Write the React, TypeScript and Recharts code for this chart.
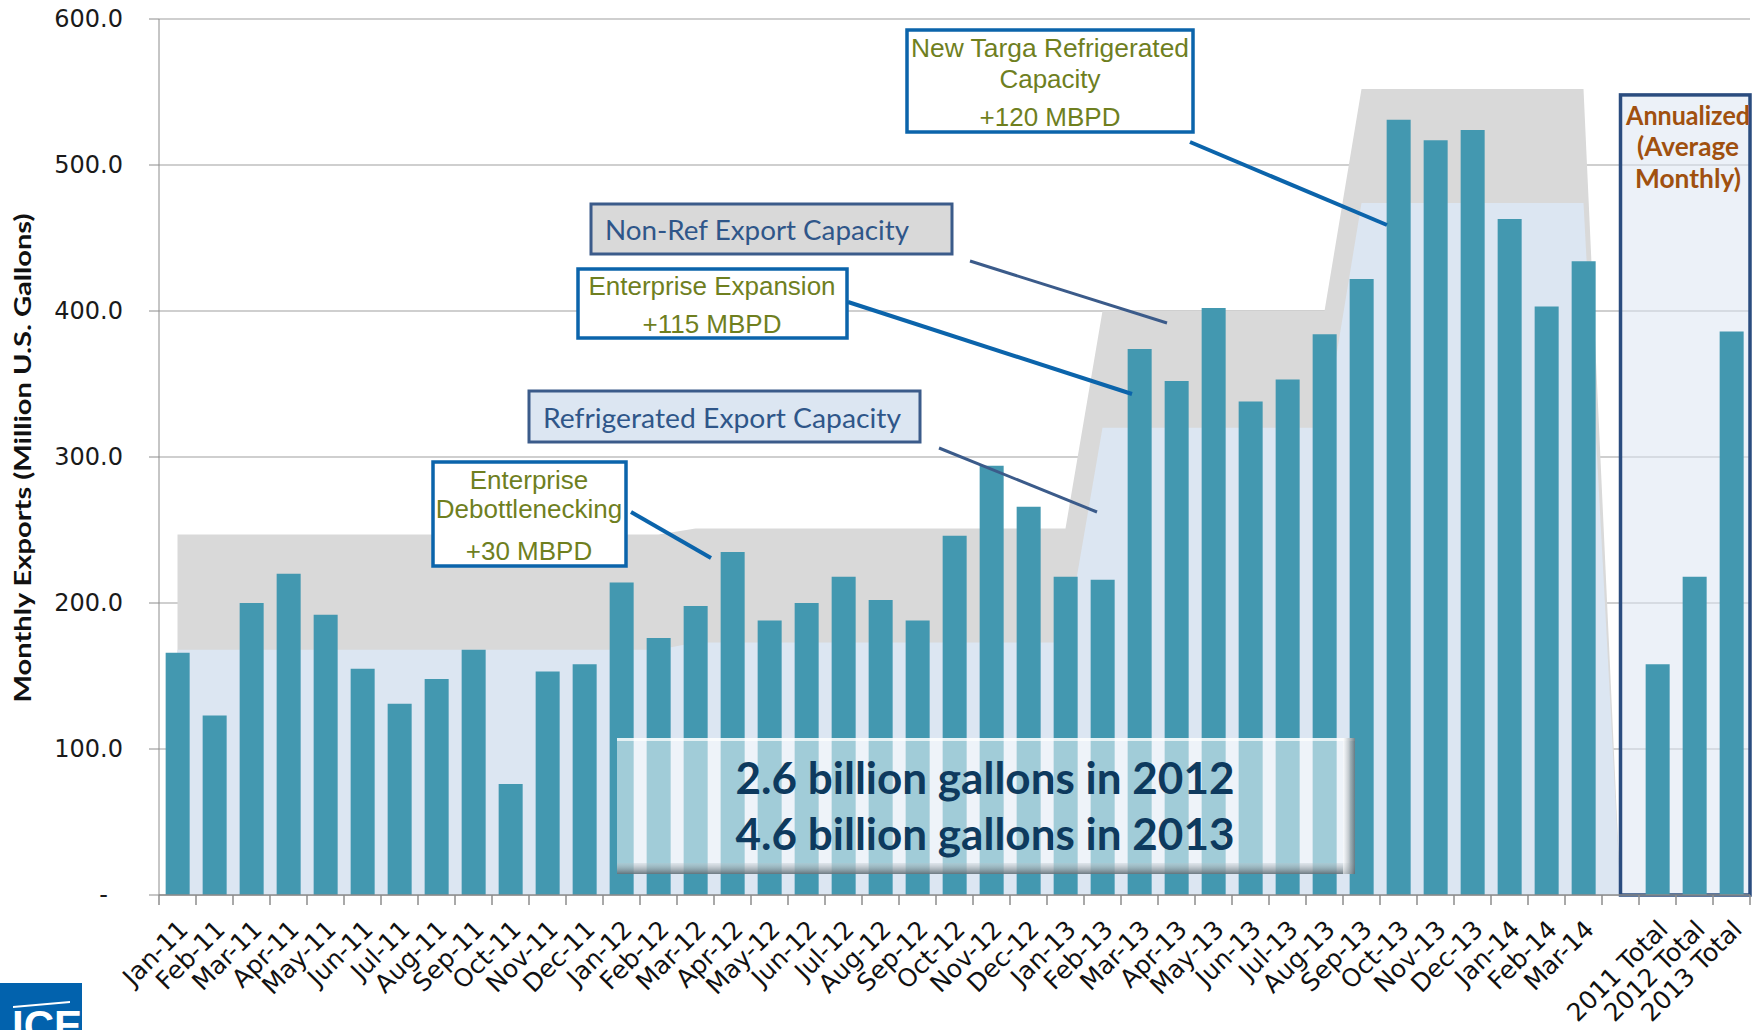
import React from "react";
import {
  Area,
  Bar,
  CartesianGrid,
  ComposedChart,
  ReferenceArea,
  XAxis,
  YAxis,
} from "recharts";

const W = 1764;
const H = 1030;

const MONTHS = [
  "Jan-11", "Feb-11", "Mar-11", "Apr-11", "May-11", "Jun-11",
  "Jul-11", "Aug-11", "Sep-11", "Oct-11", "Nov-11", "Dec-11",
  "Jan-12", "Feb-12", "Mar-12", "Apr-12", "May-12", "Jun-12",
  "Jul-12", "Aug-12", "Sep-12", "Oct-12", "Nov-12", "Dec-12",
  "Jan-13", "Feb-13", "Mar-13", "Apr-13", "May-13", "Jun-13",
  "Jul-13", "Aug-13", "Sep-13", "Oct-13", "Nov-13", "Dec-13",
  "Jan-14", "Feb-14", "Mar-14",
];

// monthly exports, million US gallons
const MONTHLY_EXPORTS = [
  166, 123, 200, 220, 192, 155, 131, 148, 168, 76, 153, 158,
  214, 176, 198, 235, 188, 200, 218, 202, 188, 246, 294, 266,
  218, 216, 374, 352, 402, 338, 353, 384, 422, 531, 517, 524,
  463, 403, 434,
];

// total export capacity (grey band) and refrigerated part (light blue band)
const TOTAL_CAPACITY = [
  247, 247, 247, 247, 247, 247, 247, 247, 247, 247, 247, 247,
  247, 247, 251, 251, 251, 251, 251, 251, 251, 251, 251, 251,
  251, 400, 400, 400, 400, 400, 400, 400, 552, 552, 552, 552,
  552, 552, 552,
];
const REFRIG_CAPACITY = [
  168, 168, 168, 168, 168, 168, 168, 168, 168, 168, 168, 168,
  168, 168, 173, 173, 173, 173, 173, 173, 173, 173, 173, 173,
  173, 320, 320, 320, 320, 320, 320, 320, 474, 474, 474, 474,
  474, 474, 474,
];

const GAP = " ";
const TOTAL_LABELS = ["2011 Total", "2012 Total", "2013 Total"];
const TOTAL_EXPORTS = [158, 218, 386];

const Y_TICKS = [0, 100, 200, 300, 400, 500, 600];
const BOX_TOP = 548;

const rows = [
  ...MONTHS.map((m, i) => ({
    name: m,
    exports: MONTHLY_EXPORTS[i],
    capacity: TOTAL_CAPACITY[i],
    refrigerated: REFRIG_CAPACITY[i],
  })),
  { name: GAP, exports: null, capacity: 0, refrigerated: 0 },
  ...TOTAL_LABELS.map((t, i) => ({
    name: t,
    exports: TOTAL_EXPORTS[i],
    capacity: null,
    refrigerated: null,
  })),
];

const PLOT_LEFT = 159;
const PLOT_RIGHT_MARGIN = 14;
const BAND = (W - PLOT_LEFT - PLOT_RIGHT_MARGIN) / rows.length;

const AXIS_GREY = "#8C8C8C";
const OLIVE = "#6F7F1F";
const NAVY_TXT = "#2F5689";
const BLUE_LINE = "#0B64AB";
const SLATE_LINE = "#3B5B8A";

const XTick = (props: any) => {
  const { x, y, payload } = props;
  const half = payload && payload.offset > 0 ? payload.offset : BAND / 2;
  const isLast = payload.value === TOTAL_LABELS[TOTAL_LABELS.length - 1];
  const tx = x + 12;
  const ty = y + 36;
  return (
    <g>
      <line x1={x - half} x2={x - half} y1={y} y2={y + 10} stroke={AXIS_GREY} strokeWidth={1.5} />
      {isLast && (
        <line x1={x + half} x2={x + half} y1={y} y2={y + 10} stroke={AXIS_GREY} strokeWidth={1.5} />
      )}
      <text
        x={tx}
        y={ty}
        transform={`rotate(-45, ${tx}, ${ty})`}
        textAnchor="end"
        fontFamily="'DejaVu Sans', sans-serif"
        fontSize={25}
        fill="#111"
      >
        {payload.value}
      </text>
    </g>
  );
};

const YTick = (props: any) => {
  const { x, y, payload } = props;
  const zero = payload.value === 0;
  return (
    <text
      x={zero ? x - 15 : x}
      y={y}
      dy={8}
      textAnchor="end"
      fontFamily="'DejaVu Sans', sans-serif"
      fontSize={24}
      fill="#1A1A1A"
    >
      {zero ? "-" : Number(payload.value).toFixed(1)}
    </text>
  );
};

// box around the annualized bars, starts at the centre of the gap column
const AnnualBox = (p: any) => {
  const half = p.width / (2 * (TOTAL_LABELS.length + 1));
  return (
    <rect
      x={p.x + half}
      y={p.y}
      width={p.width - half}
      height={p.height}
      fill="#DCE6F2"
      fillOpacity={0.55}
      stroke="#2A4C7F"
      strokeWidth={3.5}
    />
  );
};

const oliveText = {
  fontFamily: "'Liberation Sans', Arial, sans-serif",
  fontSize: 26,
  fill: OLIVE,
  textAnchor: "middle" as const,
};

const calText = {
  fontFamily: "Lato, 'Open Sans', sans-serif",
  textAnchor: "middle" as const,
  lengthAdjust: "spacingAndGlyphs" as const,
};

function Overlay() {
  return (
    <svg
      width={W}
      height={H}
      style={{ position: "absolute", left: 0, top: 0, pointerEvents: "none" }}
    >
      <defs>
        <linearGradient id="bevB" x1="0" y1="0" x2="0" y2="1">
          <stop offset="0" stopColor="#B7C2C8" stopOpacity={0.3} />
          <stop offset="1" stopColor="#56656D" stopOpacity={0.85} />
        </linearGradient>
        <linearGradient id="bevR" x1="0" y1="0" x2="1" y2="0">
          <stop offset="0" stopColor="#FFFFFF" stopOpacity={0.6} />
          <stop offset="1" stopColor="#5E6D75" stopOpacity={0.85} />
        </linearGradient>
      </defs>

      {/* y axis title */}
      <text
        x={31}
        y={458}
        transform="rotate(-90, 31, 458)"
        {...calText}
        fontWeight={700}
        fontSize={23}
        textLength={489}
        fill="#111"
      >
        Monthly Exports (Million U.S. Gallons)
      </text>

      {/* leader lines */}
      <line x1={1190} y1={142} x2={1387} y2={225} stroke={BLUE_LINE} strokeWidth={4} />
      <line x1={970} y1={261} x2={1167} y2={323} stroke={SLATE_LINE} strokeWidth={3} />
      <line x1={848} y1={302} x2={1132} y2={394} stroke={BLUE_LINE} strokeWidth={4} />
      <line x1={939} y1={448} x2={1097} y2={512} stroke={SLATE_LINE} strokeWidth={3} />
      <line x1={631} y1={512} x2={711} y2={558} stroke={BLUE_LINE} strokeWidth={4} />

      {/* New Targa */}
      <rect x={907} y={30} width={286} height={102} fill="#fff" stroke={BLUE_LINE} strokeWidth={3.5} />
      <text x={1050} y={57} {...oliveText} textLength={278} lengthAdjust="spacingAndGlyphs">
        New Targa Refrigerated
      </text>
      <text x={1050} y={88} {...oliveText}>Capacity</text>
      <text x={1050} y={126} {...oliveText}>+120 MBPD</text>

      {/* Non-Ref capacity */}
      <rect x={591} y={204} width={361} height={50} fill="#D9D9D9" stroke={SLATE_LINE} strokeWidth={3} />
      <text x={757} y={240} {...calText} fontSize={26} textLength={304} fill={NAVY_TXT}>
        Non-Ref Export Capacity
      </text>

      {/* Enterprise Expansion */}
      <rect x={578} y={269} width={269} height={69} fill="#fff" stroke={BLUE_LINE} strokeWidth={3.5} />
      <text x={712} y={295} {...oliveText}>Enterprise Expansion</text>
      <text x={712} y={333} {...oliveText}>+115 MBPD</text>

      {/* Refrigerated capacity */}
      <rect x={529} y={391} width={391} height={51} fill="#DCE6F2" stroke={SLATE_LINE} strokeWidth={3} />
      <text x={722} y={428} {...calText} fontSize={26} textLength={358} fill={NAVY_TXT}>
        Refrigerated Export Capacity
      </text>

      {/* Debottlenecking */}
      <rect x={433} y={462} width={193} height={104} fill="#fff" stroke={BLUE_LINE} strokeWidth={3.5} />
      <text x={529} y={489} {...oliveText}>Enterprise</text>
      <text x={529} y={518} {...oliveText}>Debottlenecking</text>
      <text x={529} y={560} {...oliveText}>+30 MBPD</text>

      {/* summary box */}
      <rect x={617} y={738} width={738} height={136} fill="#FFFFFF" fillOpacity={0.5} />
      <rect x={617} y={738} width={738} height={3} fill="#FFFFFF" fillOpacity={0.7} />
      <rect x={617} y={863} width={738} height={11} fill="url(#bevB)" />
      <rect x={1343} y={738} width={12} height={136} fill="url(#bevR)" />
      <text x={985} y={794} {...calText} fontWeight={700} fontSize={44} textLength={499} fill="#0E3A5E">
        2.6 billion gallons in 2012
      </text>
      <text x={985} y={850} {...calText} fontWeight={700} fontSize={44} textLength={499} fill="#0E3A5E">
        4.6 billion gallons in 2013
      </text>

      {/* annualized caption */}
      <text x={1688} y={125} {...calText} fontWeight={700} fontSize={26} textLength={124} fill="#A0500F">
        Annualized
      </text>
      <text x={1688} y={156} {...calText} fontWeight={700} fontSize={26} textLength={102} fill="#A0500F">
        (Average
      </text>
      <text x={1688} y={188} {...calText} fontWeight={700} fontSize={26} textLength={106} fill="#A0500F">
        Monthly)
      </text>

      {/* ICE logo corner */}
      <rect x={0} y={983} width={82} height={47} fill="#0262AD" />
      <path d="M13 1006 L70 1001 L70 1003 L13 1008 Z" fill="#fff" />
      <text x={12} y={1040} fontFamily="'Liberation Sans', Arial, sans-serif" fontWeight={700} fontSize={42} fill="#fff">
        ICE
      </text>
    </svg>
  );
}

export default function App() {
  return (
    <div
      style={{
        position: "absolute",
        left: 0,
        top: 0,
        width: W,
        height: H,
        background: "#fff",
        overflow: "hidden",
      }}
    >
      <ComposedChart
        width={W}
        height={H}
        data={rows}
        margin={{ top: 19, right: PLOT_RIGHT_MARGIN, left: 0, bottom: 0 }}
        barCategoryGap="18%"
      >
        <CartesianGrid vertical={false} stroke="#BFBFBF" strokeWidth={1.5} />
        <XAxis
          dataKey="name"
          interval={0}
          height={135}
          tickLine={false}
          tickSize={0}
          tickMargin={0}
          axisLine={{ stroke: AXIS_GREY, strokeWidth: 1.5 }}
          tick={<XTick />}
        />
        <YAxis
          width={PLOT_LEFT}
          domain={[0, 600]}
          ticks={Y_TICKS}
          tickSize={10}
          tickMargin={26}
          axisLine={{ stroke: AXIS_GREY }}
          tickLine={{ stroke: AXIS_GREY }}
          tick={<YTick />}
        />
        <Area
          dataKey="capacity"
          type="linear"
          fill="#D9D9D9"
          fillOpacity={1}
          stroke="none"
          dot={false}
          activeDot={false}
          isAnimationActive={false}
        />
        <Area
          dataKey="refrigerated"
          type="linear"
          fill="#DCE6F2"
          fillOpacity={1}
          stroke="none"
          dot={false}
          activeDot={false}
          isAnimationActive={false}
        />
        <ReferenceArea x1={GAP} x2={TOTAL_LABELS[TOTAL_LABELS.length - 1]} y1={0} y2={BOX_TOP} shape={AnnualBox} />
        <Bar dataKey="exports" fill="#4398B0" isAnimationActive={false} />
      </ComposedChart>
      <Overlay />
    </div>
  );
}
